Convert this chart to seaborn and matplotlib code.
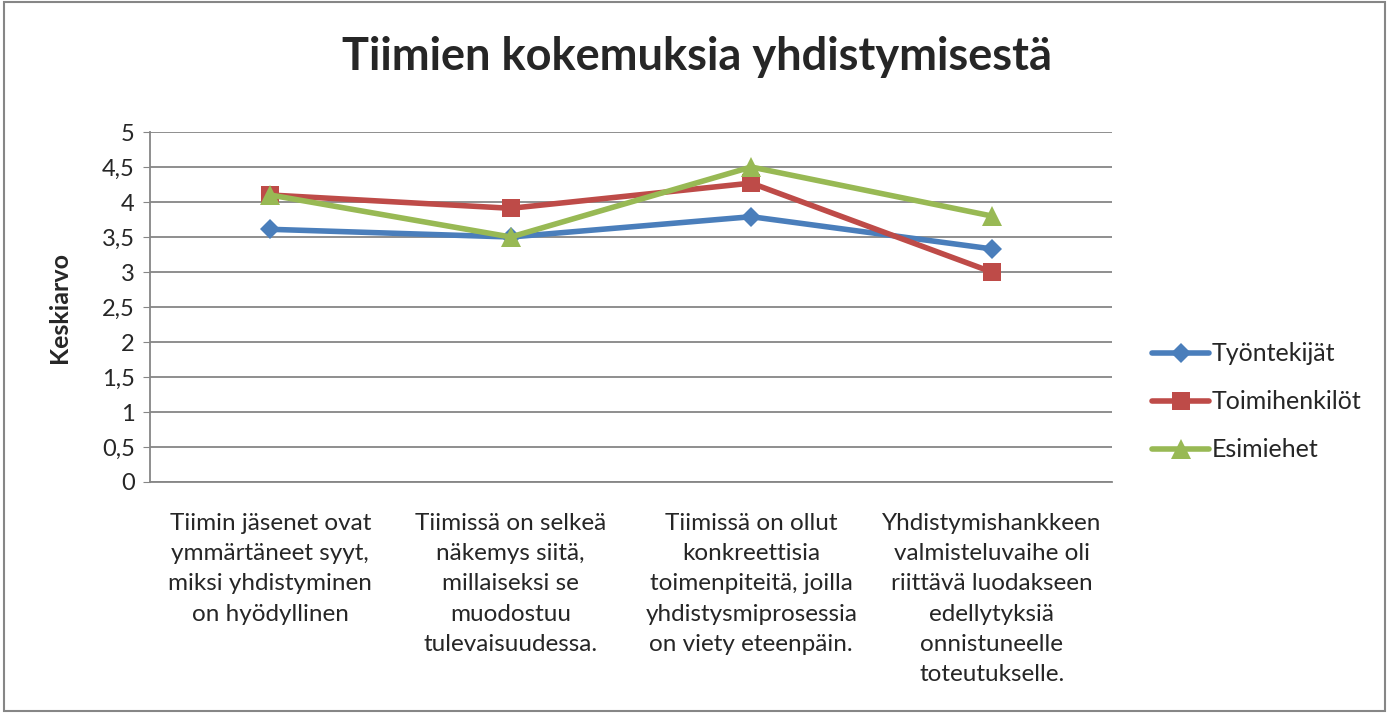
import pandas as pd
import matplotlib.pyplot as plt
import seaborn as sns
from matplotlib.patches import Rectangle

# data
kategoriat = ["Tiimin jäsenet ovat\nymmärtäneet syyt,\nmiksi yhdistyminen\non hyödyllinen",
              "Tiimissä on selkeä\nnäkemys siitä,\nmillaiseksi se\nmuodostuu\ntulevaisuudessa.",
              "Tiimissä on ollut\nkonkreettisia\ntoimenpiteitä, joilla\nyhdistysmiprosessia\non viety eteenpäin.",
              "Yhdistymishankkeen\nvalmisteluvaihe oli\nriittävä luodakseen\nedellytyksiä\nonnistuneelle\ntoteutukselle."]
ryhmat = ["Työntekijät", "Toimihenkilöt", "Esimiehet"]
tyontekijat = [3.61, 3.50, 3.79, 3.33]
toimihenkilot = [4.10, 3.91, 4.27, 3.00]
esimiehet = [4.10, 3.50, 4.50, 3.80]
yticks = [0, 0.5, 1, 1.5, 2, 2.5, 3, 3.5, 4, 4.5, 5]

df = pd.DataFrame({
    "x": list(range(4)) * 3,
    "arvo": tyontekijat + toimihenkilot + esimiehet,
    "ryhma": [r for r in ryhmat for _ in range(4)],
})

sns.set_style("white")
plt.rcParams["font.family"] = ["Lato", "DejaVu Sans"]

fig = plt.figure(figsize=(13.89, 7.13), dpi=100)
ax = fig.add_axes([150 / 1389, 1 - 482 / 713, 962 / 1389, 350 / 713])

paletti = {"Työntekijät": "#4a7ebb", "Toimihenkilöt": "#be4b48", "Esimiehet": "#98b954"}
merkit = {"Työntekijät": "D", "Toimihenkilöt": "s", "Esimiehet": "^"}
koot = {"Työntekijät": 10, "Toimihenkilöt": 13, "Esimiehet": 14}

for r in ryhmat:
    sns.lineplot(data=df[df.ryhma == r], x="x", y="arvo", color=paletti[r], marker=merkit[r],
                 markersize=koot[r], markeredgewidth=0, linewidth=4, label=r, ax=ax, zorder=3)

ax.set_xlim(-0.5, 3.5)
ax.set_ylim(0, 5)
ax.set_yticks(yticks)
ax.set_yticklabels([str(t).replace(".", ",") if t % 1 else str(int(t)) for t in yticks], fontsize=17)
ax.set_xticks(range(4))
ax.set_xticklabels(kategoriat, fontsize=17.5, linespacing=1.55, va="top")
ax.tick_params(axis="x", length=0, pad=22)
ax.tick_params(axis="y", length=5, color="#868686", left=True, pad=6)
ax.yaxis.grid(True, color="#868686", linewidth=1.3)
ax.set_axisbelow(True)
for s in ["top", "right"]:
    ax.spines[s].set_visible(False)
ax.spines["left"].set_color("#868686")
ax.spines["left"].set_linewidth(1.3)
ax.spines["bottom"].set_color("#868686")
ax.spines["bottom"].set_linewidth(1.3)

ax.set_xlabel("")
ax.set_ylabel("Keskiarvo", fontsize=18, fontweight="bold", labelpad=22)

fig.suptitle("Tiimien kokemuksia yhdistymisestä", fontsize=32.5, fontweight="bold", y=0.92, x=0.502,
             va="center")

ax.legend(loc="center left", bbox_to_anchor=(1.018, 0.229), frameon=False, fontsize=18,
          handlelength=2.3, labelspacing=1.0, handletextpad=0.1)

fig.patches.append(Rectangle((0.003, 0.003), 0.994, 0.994, transform=fig.transFigure,
                             fill=False, edgecolor="#868686", linewidth=1.5))

fig.savefig("out.png", dpi=100)
